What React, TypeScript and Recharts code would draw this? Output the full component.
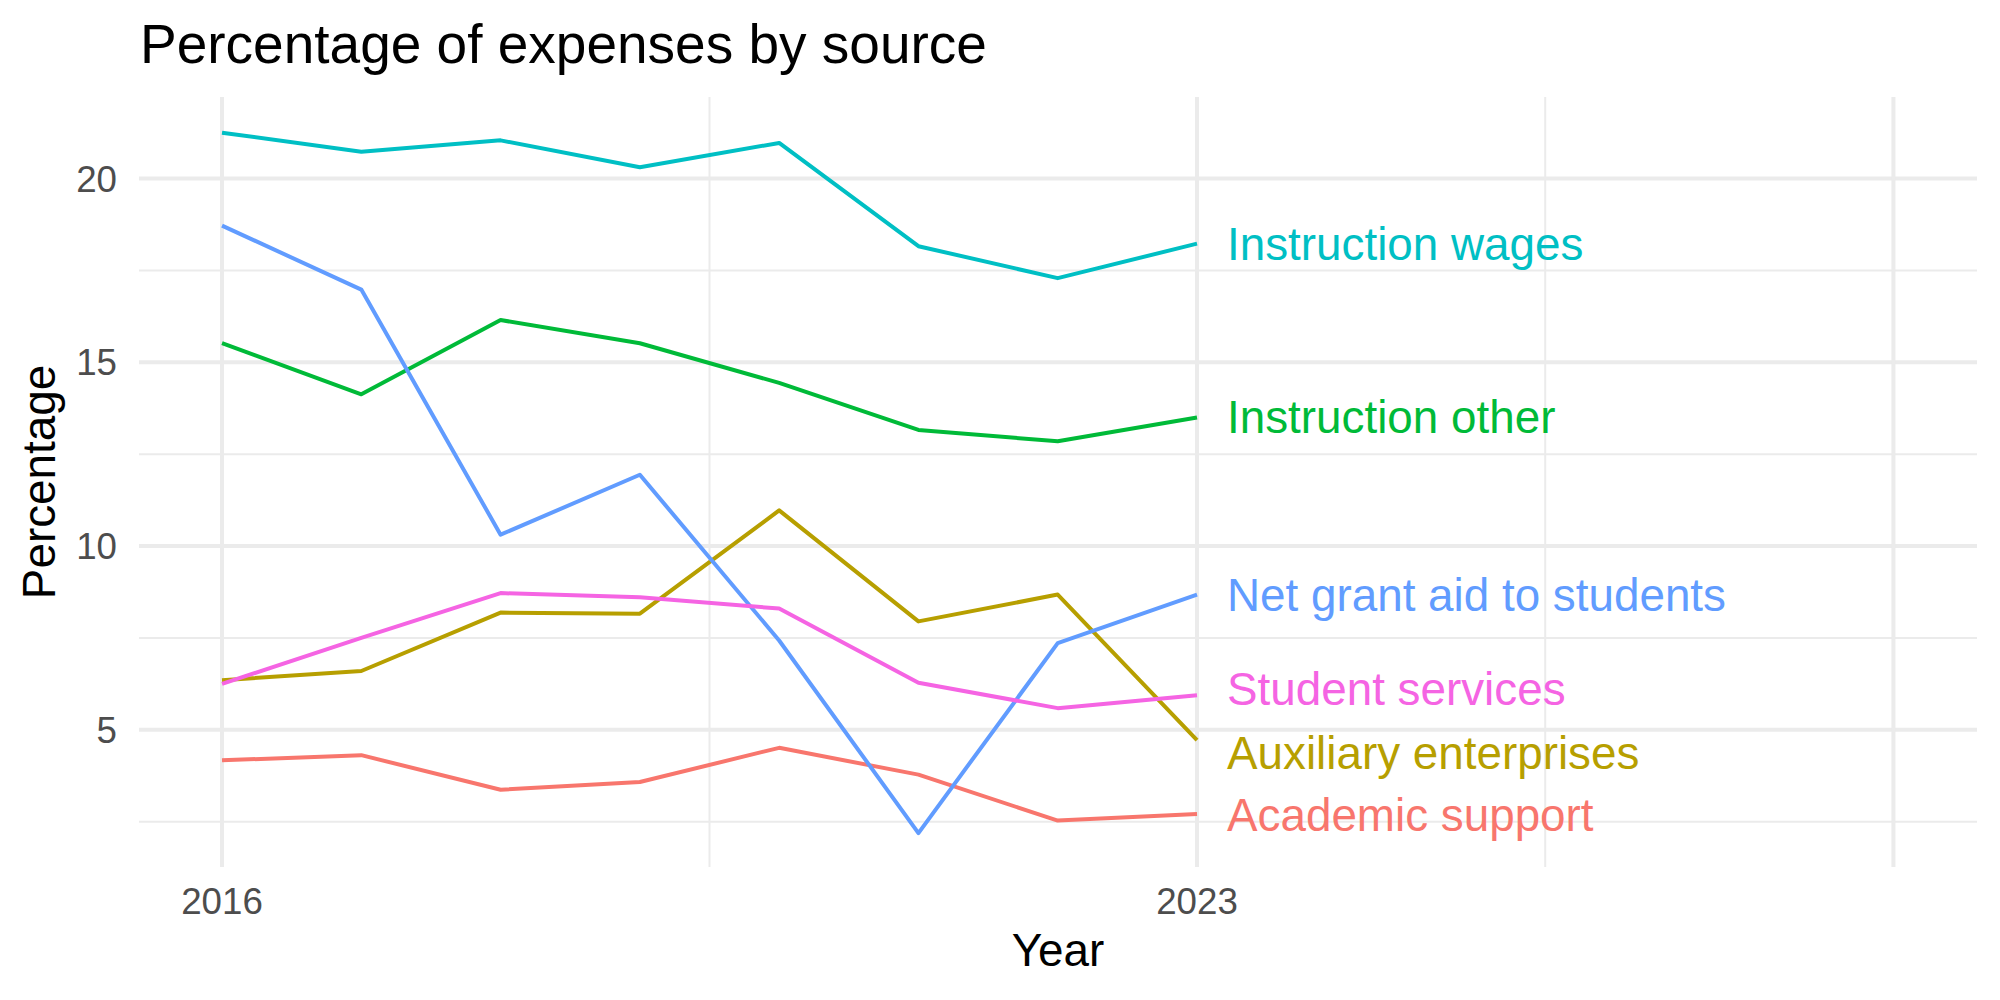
import React from "react";
import { LineChart, Line, XAxis, YAxis, CartesianGrid, ReferenceDot } from "recharts";

// Share of expenses by source, 2016-2023
const years = [2016, 2017, 2018, 2019, 2020, 2021, 2022, 2023];

const academicSupport = [4.17, 4.31, 3.37, 3.58, 4.51, 3.78, 2.53, 2.71];
const auxiliaryEnterprises = [6.35, 6.6, 8.19, 8.16, 10.97, 7.95, 8.68, 4.72];
const instructionOther = [15.52, 14.13, 16.15, 15.52, 14.44, 13.16, 12.85, 13.5];
const instructionWages = [21.25, 20.73, 21.04, 20.31, 20.97, 18.16, 17.29, 18.23];
const netGrantAid = [18.72, 16.98, 10.31, 11.94, 7.43, 2.19, 7.36, 8.68];
const studentServices = [6.25, 7.5, 8.72, 8.61, 8.3, 6.28, 5.59, 5.94];

// end labels sit next to the last year, nudged apart where they would overlap
const labelYear = 2023;
const labelValues = [2.68, 4.37, 13.5, 18.23, 8.68, 6.11];

const seriesNames = [
    "Academic support",
    "Auxiliary enterprises",
    "Instruction other",
    "Instruction wages",
    "Net grant aid to students",
    "Student services",
];
const seriesKeys = ["academic", "auxiliary", "instrOther", "instrWages", "netGrant", "studentSvc"];
const seriesColors = ["#F8766D", "#B79F00", "#00BA38", "#00BFC4", "#619CFF", "#F564E3"];
const seriesValues = [
    academicSupport,
    auxiliaryEnterprises,
    instructionOther,
    instructionWages,
    netGrantAid,
    studentServices,
];

const xMajor = [2016, 2023, 2028];
const xMinor = [2019.5, 2025.5];
const yMajor = [5, 10, 15, 20];
const yMinor = [2.5, 7.5, 12.5, 17.5];

const FONT = '"Liberation Sans", Arial, Helvetica, sans-serif';
const GRID = "#EBEBEB";

const chartData = years.map((year, i) => {
    const row: any = { year };
    seriesKeys.forEach((k, s) => {
        row[k] = seriesValues[s][i];
    });
    return row;
});

function EndLabel({ viewBox, text, color }: any) {
    if (!viewBox) return null;
    return (
        <text
            x={viewBox.x + 30}
            y={viewBox.y + 16}
            fill={color}
            fontSize={45.8}
            fontFamily={FONT}
            textAnchor="start"
        >
            {text}
        </text>
    );
}

function XTitle({ viewBox }: any) {
    return (
        <text x={viewBox.x + viewBox.width / 2} y={966} textAnchor="middle" fontSize={45.8} fontFamily={FONT} fill="#000">
            Year
        </text>
    );
}

function YTitle({ viewBox }: any) {
    const cy = viewBox.y + viewBox.height / 2;
    return (
        <text
            x={55}
            y={cy}
            textAnchor="middle"
            fontSize={45.8}
            fontFamily={FONT}
            fill="#000"
            transform={`rotate(-90, 55, ${cy})`}
        >
            Percentage
        </text>
    );
}

export default function App() {
    return (
        <div style={{ position: "absolute", top: 0, left: 0, width: 2000, height: 1000, background: "#fff", fontFamily: FONT }}>
            <div
                style={{
                    position: "absolute",
                    left: 140,
                    top: 17,
                    fontSize: 55,
                    lineHeight: "55px",
                    color: "#000",
                    whiteSpace: "nowrap",
                }}
            >
                Percentage of expenses by source
            </div>
            <LineChart
                width={2000}
                height={1000}
                data={chartData}
                margin={{ top: 97, right: 23, bottom: 33, left: 39 }}
            >
                <CartesianGrid
                    stroke={GRID}
                    strokeWidth={2}
                    horizontalValues={yMinor}
                    verticalValues={xMinor}
                />
                <CartesianGrid
                    stroke={GRID}
                    strokeWidth={4}
                    horizontalValues={yMajor}
                    verticalValues={xMajor}
                />
                <XAxis
                    type="number"
                    dataKey="year"
                    domain={[2015.404, 2028.6]}
                    ticks={[2016, 2023]}
                    allowDataOverflow
                    axisLine={false}
                    tickLine={false}
                    tickSize={0}
                    tickMargin={21}
                    height={100}
                    tick={{ fill: "#4D4D4D", fontSize: 36.7, fontFamily: FONT }}
                    label={<XTitle />}
                />
                <YAxis
                    type="number"
                    domain={[1.267, 22.22]}
                    ticks={yMajor}
                    allowDataOverflow
                    axisLine={false}
                    tickLine={false}
                    tickSize={0}
                    tickMargin={22}
                    width={100}
                    tick={{ fill: "#4D4D4D", fontSize: 36.7, fontFamily: FONT }}
                    label={<YTitle />}
                />
                {seriesKeys.map((k, s) => (
                    <Line
                        key={k}
                        type="linear"
                        dataKey={k}
                        stroke={seriesColors[s]}
                        strokeWidth={4}
                        strokeLinejoin="round"
                        dot={false}
                        activeDot={false}
                        isAnimationActive={false}
                    />
                ))}
                {seriesNames.map((name, s) => (
                    <ReferenceDot
                        key={name}
                        x={labelYear}
                        y={labelValues[s]}
                        r={0}
                        fill="none"
                        stroke="none"
                        label={<EndLabel text={name} color={seriesColors[s]} />}
                    />
                ))}
            </LineChart>
        </div>
    );
}
